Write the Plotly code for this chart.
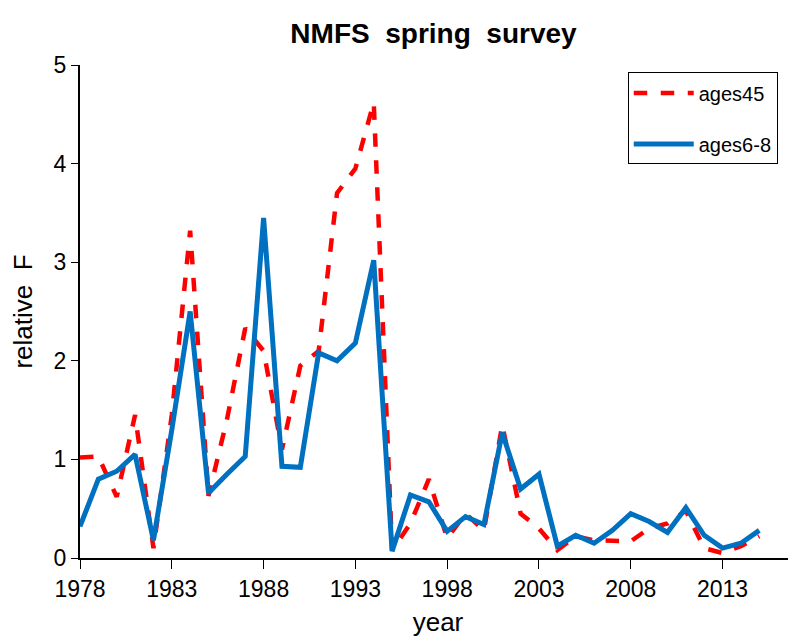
import plotly.graph_objects as go

years = list(range(1978, 2016))
ages45 = [1.02, 1.03, 0.62, 1.45, 0.10, 1.45, 3.32, 0.63, 1.40, 2.33, 2.10, 1.10, 1.95,
          2.10, 3.70, 3.95, 4.62, 0.08, 0.35, 0.80, 0.20, 0.45, 0.28, 1.35, 0.45, 0.30,
          0.08, 0.22, 0.18, 0.18, 0.17, 0.30, 0.35, 0.48, 0.10, 0.05, 0.12, 0.22]
ages6_8 = [0.32, 0.80, 0.88, 1.05, 0.18, 1.30, 2.50, 0.66, 0.85, 1.03, 3.45, 0.93, 0.92,
           2.08, 2.00, 2.18, 3.02, 0.07, 0.64, 0.57, 0.27, 0.42, 0.34, 1.27, 0.70, 0.85,
           0.12, 0.23, 0.15, 0.28, 0.45, 0.37, 0.26, 0.51, 0.23, 0.10, 0.15, 0.28]
xticks = [1978, 1983, 1988, 1993, 1998, 2003, 2008, 2013]

fig = go.Figure()
fig.add_trace(go.Scatter(x=years, y=ages45, mode="lines", name="ages45", legendgroup="a",
                         line=dict(color="#ff0000", width=4.5, dash="dash")))
fig.add_trace(go.Scatter(x=years, y=ages6_8, mode="lines", name="ages6-8", legendgroup="b",
                         line=dict(color="#0070c0", width=5)))

font = "Liberation Sans, Arial, sans-serif"
fig.update_layout(
    width=788, height=635,
    paper_bgcolor="white", plot_bgcolor="white",
    margin=dict(l=72, r=0, t=57, b=85),
    font=dict(family=font, size=22, color="black"),
    title=dict(text="<b>NMFS  spring  survey</b>", x=0.54, xanchor="center",
               y=0.975, yanchor="top", font=dict(size=28)),
    showlegend=True,
    legend=dict(x=0.765, y=0.985, xanchor="left", yanchor="top",
                bordercolor="black", borderwidth=1, bgcolor="white",
                font=dict(size=20), tracegroupgap=22, itemwidth=60),
    xaxis=dict(range=[1978, 2017], tickvals=xticks, showgrid=False,
               showline=True, linecolor="black", linewidth=2, automargin=False,
               ticks="outside", ticklen=9, tickcolor="black", tickfont=dict(size=23),
               title=dict(text="year", standoff=12), zeroline=False),
    yaxis=dict(range=[0, 5], dtick=1, showgrid=False,
               showline=True, linecolor="black", linewidth=2, automargin=False,
               ticks="outside", ticklen=7, tickcolor="black", tickfont=dict(size=23),
               title=dict(text="relative  F", standoff=16), zeroline=False),
)

fig.write_html("out.html")
